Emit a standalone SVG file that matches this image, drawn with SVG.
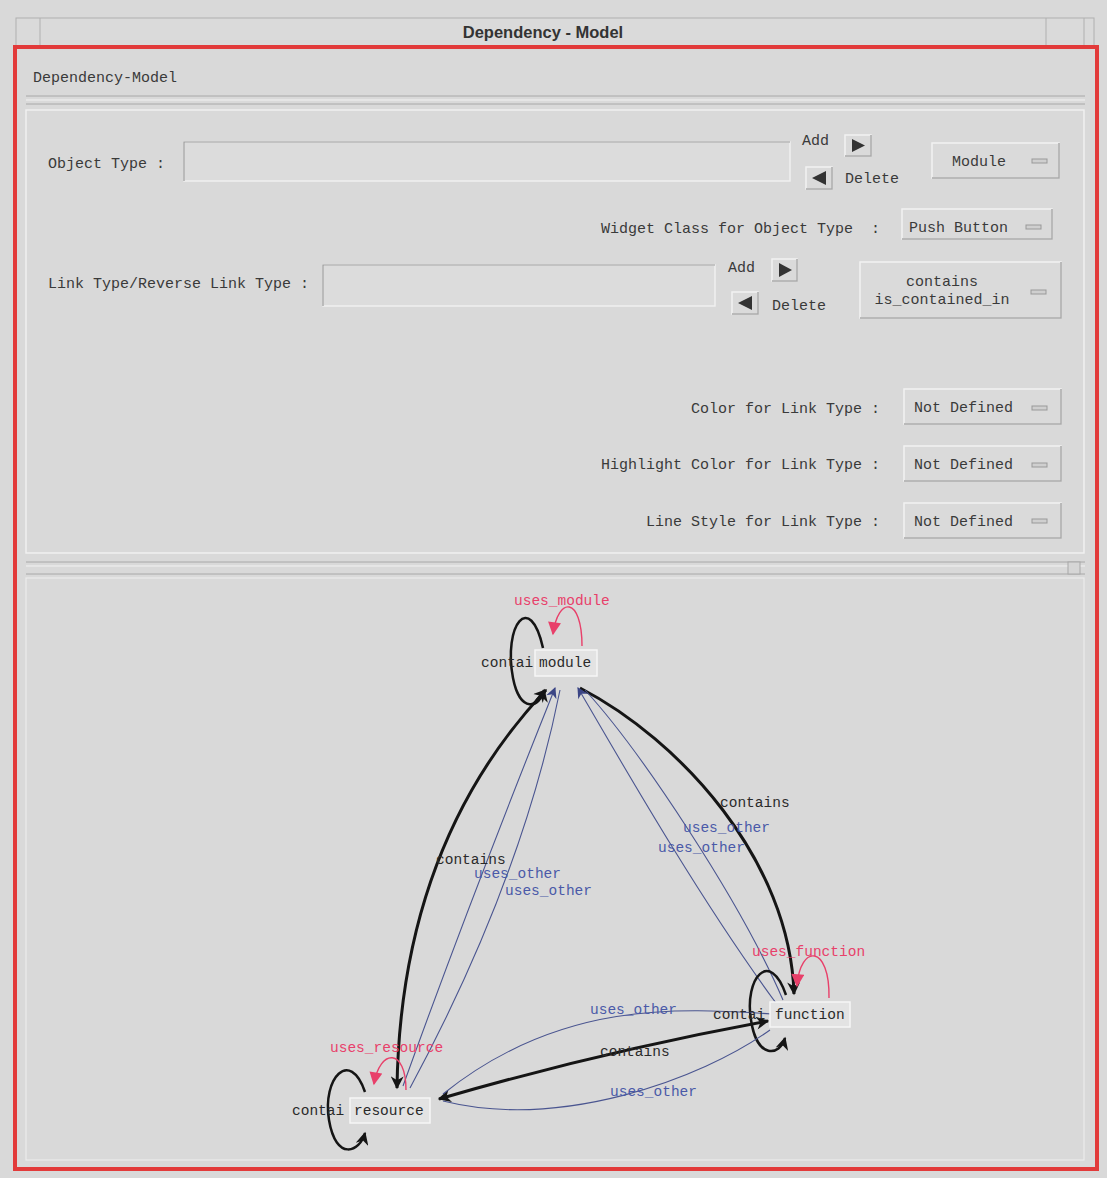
<svg xmlns="http://www.w3.org/2000/svg" width="1107" height="1178" viewBox="0 0 1107 1178">
<style>
.ui{font-family:"Liberation Mono","DejaVu Sans Mono",monospace;font-size:15px;fill:#3a3a3a}
.gl{font-family:"Liberation Mono","DejaVu Sans Mono",monospace;font-size:14.5px}
.k{fill:#2a2a2a}
.b{fill:#4a5aa8}
.r{fill:#e8406a}
.btn{fill:#dadada;stroke:#f2f2f2;stroke-width:1.5}
.btnsh{fill:none;stroke:#a8a8a8;stroke-width:1.5}
.fld{fill:#dcdcdc;stroke:#f0f0f0;stroke-width:1.5}
.fldsh{fill:none;stroke:#9a9a9a;stroke-width:1.2}
.ind{fill:#cfcfcf;stroke:#999;stroke-width:1}
.ck{fill:none;stroke:#151515;stroke-width:3}
.cl{fill:none;stroke:#151515;stroke-width:2.5}
.cb{fill:none;stroke:#4a5590;stroke-width:1.1}
.cr{fill:none;stroke:#e8406a;stroke-width:1.4}
.nbox{fill:#e3e3e3;stroke:#f6f6f6;stroke-width:1.5}
</style>
<defs>
<marker id="ak" viewBox="0 0 10 10" refX="9" refY="5" markerWidth="15" markerHeight="13" markerUnits="userSpaceOnUse" orient="auto-start-reverse"><path d="M0,0 L10,5 L0,10 L3,5 z" fill="#151515"/></marker>
<marker id="ab" viewBox="0 0 10 10" refX="9" refY="5" markerWidth="13" markerHeight="11" markerUnits="userSpaceOnUse" orient="auto-start-reverse"><path d="M0,0 L10,5 L0,10 L3,5 z" fill="#3b4585"/></marker>
<marker id="ar" viewBox="0 0 10 10" refX="9" refY="5" markerWidth="14" markerHeight="13" markerUnits="userSpaceOnUse" orient="auto-start-reverse"><path d="M0,0 L10,5 L0,10 z" fill="#e8406a"/></marker>
</defs>

<g id="window">
<rect x="0" y="0" width="1107" height="1178" fill="#d9d9d9"/>
<rect x="16" y="18" width="1078" height="28" fill="#dadada" stroke="#b0b0b0" stroke-width="1"/>
<line x1="40" y1="18" x2="40" y2="46" stroke="#b0b0b0"/>
<line x1="1046" y1="18" x2="1046" y2="46" stroke="#b0b0b0"/>
<line x1="1084" y1="18" x2="1084" y2="46" stroke="#b0b0b0"/>
<text x="543" y="38" text-anchor="middle" font-family="Liberation Sans, Arial, sans-serif" font-size="16.5" font-weight="bold" fill="#333">Dependency - Model</text>
<rect x="15" y="47" width="1082" height="1122" fill="none" stroke="#e23a3a" stroke-width="4"/>
<text class="ui" x="33" y="82" font-size="14">Dependency-Model</text>
<line x1="26" y1="96" x2="1085" y2="96" stroke="#a8a8a8"/>
<line x1="26" y1="100" x2="1085" y2="100" stroke="#f2f2f2"/>
<line x1="26" y1="104" x2="1085" y2="104" stroke="#a8a8a8"/>
<rect x="26" y="110" width="1058" height="443" fill="none" stroke="#f0f0f0" stroke-width="1.5"/>
<line x1="26" y1="562" x2="1085" y2="562" stroke="#a8a8a8"/>
<line x1="26" y1="566" x2="1085" y2="566" stroke="#f2f2f2"/>
<line x1="26" y1="574" x2="1085" y2="574" stroke="#a8a8a8"/>
<rect x="1068" y="562" width="12" height="12" fill="#d6d6d6" stroke="#a8a8a8"/>
<rect x="26" y="578" width="1058" height="582" fill="none" stroke="#ececec" stroke-width="1.2"/>
</g>

<g id="form">
<g id="object-type">
<text class="ui" x="48" y="168">Object Type :</text>
<rect class="fld" x="184" y="142" width="606" height="39"/>
<path class="fldsh" d="M184,181 L184,142 L790,142"/>
<text class="ui" x="802" y="145">Add</text>
<rect class="btn" x="845" y="135" width="26" height="21"/>
<path class="btnsh" d="M871,135 L871,156 L845,156"/>
<path d="M852,139 L865,145.5 L852,152 z" fill="#333"/>
<rect class="btn" x="806" y="167" width="26" height="22"/>
<path class="btnsh" d="M832,167 L832,189 L806,189"/>
<path d="M826,171 L812,178 L826,185 z" fill="#333"/>
<text class="ui" x="845" y="183">Delete</text>
<rect class="btn" x="932" y="143" width="127" height="35"/>
<path class="btnsh" d="M1059,143 L1059,178 L932,178"/>
<text class="ui" x="952" y="166">Module</text>
<rect class="ind" x="1032" y="159" width="15" height="4"/>
</g>
<g id="widget-class">
<text class="ui" x="880" y="233" text-anchor="end" xml:space="preserve">Widget Class for Object Type  :</text>
<rect class="btn" x="902" y="209" width="150" height="30"/>
<path class="btnsh" d="M1052,209 L1052,239 L902,239"/>
<text class="ui" x="909" y="232">Push Button</text>
<rect class="ind" x="1026" y="225" width="15" height="4"/>
</g>
<g id="link-type">
<text class="ui" x="48" y="288">Link Type/Reverse Link Type :</text>
<rect class="fld" x="323" y="265" width="392" height="41"/>
<path class="fldsh" d="M323,306 L323,265 L715,265"/>
<text class="ui" x="728" y="272">Add</text>
<rect class="btn" x="772" y="259" width="25" height="22"/>
<path class="btnsh" d="M797,259 L797,281 L772,281"/>
<path d="M779,263 L792,270 L779,277 z" fill="#333"/>
<rect class="btn" x="732" y="292" width="26" height="22"/>
<path class="btnsh" d="M758,292 L758,314 L732,314"/>
<path d="M752,296 L738,303 L752,310 z" fill="#333"/>
<text class="ui" x="772" y="310">Delete</text>
<rect class="btn" x="860" y="262" width="201" height="56"/>
<path class="btnsh" d="M1061,262 L1061,318 L860,318"/>
<text class="ui" x="942" y="286" text-anchor="middle">contains</text>
<text class="ui" x="942" y="304" text-anchor="middle">is_contained_in</text>
<rect class="ind" x="1031" y="290" width="15" height="4"/>
</g>
<g id="link-color">
<text class="ui" x="880" y="413" text-anchor="end">Color for Link Type :</text>
<rect class="btn" x="904" y="389" width="157" height="35"/>
<path class="btnsh" d="M1061,389 L1061,424 L904,424"/>
<text class="ui" x="914" y="412">Not Defined</text>
<rect class="ind" x="1032" y="406" width="15" height="4"/>
</g>
<g id="highlight-color">
<text class="ui" x="880" y="469" text-anchor="end">Highlight Color for Link Type :</text>
<rect class="btn" x="904" y="446" width="157" height="35"/>
<path class="btnsh" d="M1061,446 L1061,481 L904,481"/>
<text class="ui" x="914" y="469">Not Defined</text>
<rect class="ind" x="1032" y="463" width="15" height="4"/>
</g>
<g id="line-style">
<text class="ui" x="880" y="526" text-anchor="end">Line Style for Link Type :</text>
<rect class="btn" x="904" y="503" width="157" height="35"/>
<path class="btnsh" d="M1061,503 L1061,538 L904,538"/>
<text class="ui" x="914" y="526">Not Defined</text>
<rect class="ind" x="1032" y="519" width="15" height="4"/>
</g>
</g>

<g id="connectors">
<!-- module self loops -->
<path class="cl" d="M543,648 C530,590 503,625 513,678 C520,714 540,708 544,690" marker-end="url(#ak)"/>
<path class="cr" d="M582,646 C582,596 558,596 553,634" marker-end="url(#ar)"/>
<!-- module - resource -->
<path class="ck" d="M546,690 C480,760 400,880 397,1088" marker-start="url(#ak)" marker-end="url(#ak)"/>
<path class="cb" d="M555,688 Q470,900 403,1086" marker-start="url(#ab)"/>
<path class="cb" d="M560,690 Q522,880 410,1088"/>
<!-- module - function -->
<path class="ck" d="M580,688 C680,740 790,860 794,994" marker-end="url(#ak)"/>
<path class="cb" d="M578,688 C620,760 700,900 776,1003" marker-start="url(#ab)"/>
<path class="cb" d="M585,690 C640,750 740,900 783,1000"/>
<!-- function self loops -->
<path class="cl" d="M786,995 C770,948 744,978 751,1020 C757,1060 780,1056 785,1038" marker-end="url(#ak)"/>
<path class="cr" d="M829,998 C830,944 800,944 797,986" marker-end="url(#ar)"/>
<!-- function - resource -->
<path class="ck" d="M768,1021 Q600,1052 439,1099" marker-start="url(#ak)" marker-end="url(#ak)"/>
<path class="cb" d="M772,1014 C680,1008 560,1000 443,1094"/>
<path class="cb" d="M770,1030 C700,1080 560,1130 443,1101"/>
<!-- resource self loops -->
<path class="cl" d="M365,1092 C350,1048 322,1078 329,1120 C336,1162 360,1152 365,1133" marker-end="url(#ak)"/>
<path class="cr" d="M406,1090 C406,1048 380,1048 374,1084" marker-end="url(#ar)"/>
<!-- labels -->
<text class="gl r" x="514" y="605">uses_module</text>
<text class="gl k" x="720" y="807">contains</text>
<text class="gl b" x="683" y="832">uses_other</text>
<text class="gl b" x="658" y="852">uses_other</text>
<text class="gl k" x="436" y="864">contains</text>
<text class="gl b" x="474" y="878">uses_other</text>
<text class="gl b" x="505" y="895">uses_other</text>
<text class="gl r" x="752" y="956">uses_function</text>
<text class="gl b" x="590" y="1014">uses_other</text>
<text class="gl k" x="600" y="1056">contains</text>
<text class="gl b" x="610" y="1096">uses_other</text>
<text class="gl r" x="330" y="1052">uses_resource</text>
</g>

<g id="node-module">
<text class="gl k" x="481" y="667">contai</text>
<rect class="nbox" x="535" y="650" width="62" height="26"/>
<text class="gl k" x="539" y="667">module</text>
</g>
<g id="node-function">
<text class="gl k" x="713" y="1019">contai</text>
<rect class="nbox" x="770" y="1002" width="80" height="25"/>
<text class="gl k" x="775" y="1019">function</text>
</g>
<g id="node-resource">
<text class="gl k" x="292" y="1115">contai</text>
<rect class="nbox" x="350" y="1098" width="80" height="25"/>
<text class="gl k" x="354" y="1115">resource</text>
</g>
</svg>
